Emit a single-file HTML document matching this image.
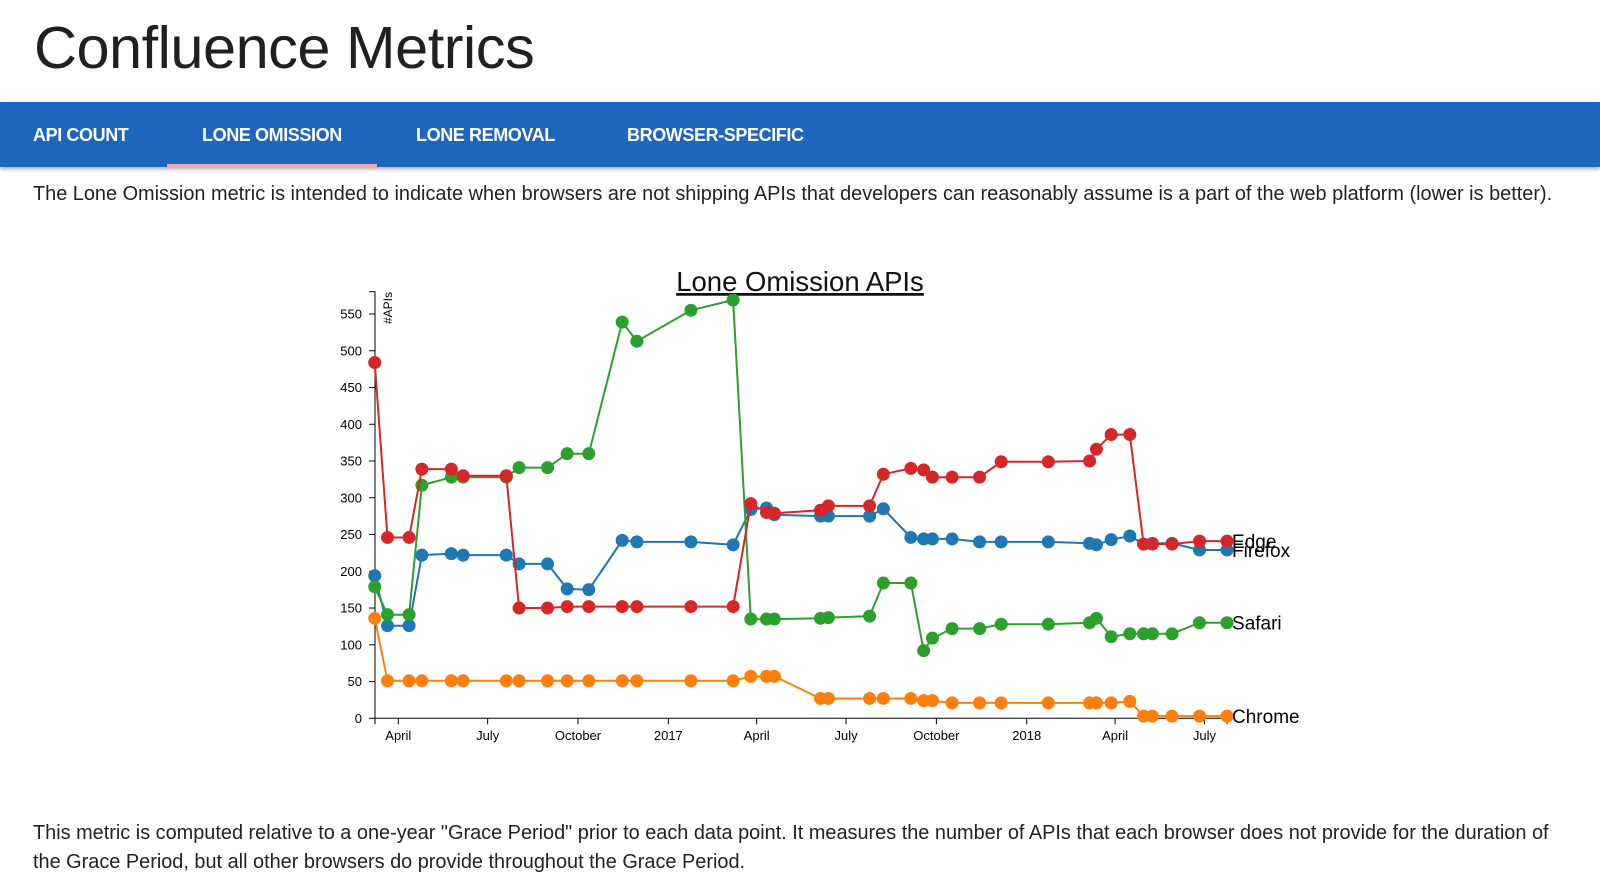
<!DOCTYPE html>
<html><head><meta charset="utf-8"><style>
html,body{margin:0;padding:0;background:#fff;width:1600px;height:894px;overflow:hidden;font-family:"Liberation Sans",sans-serif;color:#222}
h1{position:absolute;left:34px;top:13px;margin:0;font-weight:400;font-size:59.5px;letter-spacing:-0.5px;color:#202020}
#nav{position:absolute;left:0;top:102px;width:1600px;height:65px;background:#1e66bd;box-shadow:0 2px 4px rgba(0,0,0,.35)}
.tab{position:absolute;top:23px;color:#fff;font-size:18px;font-weight:bold;letter-spacing:-0.4px}
#ul{position:absolute;left:167px;top:62px;width:210px;height:3px;background:#f3a5b0}
.p{position:absolute;left:33px;font-size:19.9px;color:#222;white-space:nowrap}
</style></head><body>
<h1>Confluence Metrics</h1>
<div id="nav">
<span class="tab" style="left:33px">API COUNT</span>
<span class="tab" style="left:202px">LONE OMISSION</span>
<span class="tab" style="left:416px">LONE REMOVAL</span>
<span class="tab" style="left:627px">BROWSER-SPECIFIC</span>
<div id="ul"></div>
</div>
<div class="p" style="top:183px">The Lone Omission metric is intended to indicate when browsers are not shipping APIs that developers can reasonably assume is a part of the web platform (lower is better).</div>
<div class="p" style="top:822px">This metric is computed relative to a one-year "Grace Period" prior to each data point. It measures the number of APIs that each browser does not provide for the duration of</div>
<div class="p" style="top:851px">the Grace Period, but all other browsers do provide throughout the Grace Period.</div>
<svg id="chart" width="1600" height="894" style="position:absolute;left:0;top:0"></svg>
<script>
const days=[67,80,102,115,145,157,201,214,243,263,285,319,334,389,432,450,466,474,521,529,571,585,613,626,635,655,683,705,753,795,802,817,836,850,859,879,907,935];
const firefox=[194,126,126,222,224,222,222,210,210,176,175,242,240,240,236,284,286,277,275,275,275,285,246,244,244,244,240,240,240,238,236,243,248,237,238,238,229,229];
const chrome=[136,51,51,51,51,51,51,51,51,51,51,51,51,51,51,57,57,57,27,27,27,27,27,24,24,21,21,21,21,21,21,21,23,3,3,3,3,3];
const safari=[179,141,141,317,328,328,328,341,341,360,360,539,513,555,569,135,135,135,136,137,139,184,184,92,109,122,122,128,128,130,136,111,115,115,115,115,130,130];
const edge=[484,246,246,339,339,330,330,150,150,152,152,152,152,152,152,292,280,279,283,289,289,332,340,338,328,328,328,349,349,350,366,386,386,237,237,237,241,241];
const yTicks=[0,50,100,150,200,250,300,350,400,450,500,550];
const xTickDays=[91,182,274,366,456,547,639,731,821,912];
const xTickLabels=["April","July","October","2017","April","July","October","2018","April","July"];
const seriesNames=["Firefox","Chrome","Safari","Edge"];
const seriesColors=["#1f77b4","#ff7f0e","#2ca02c","#d62728"];
const seriesData=[firefox,chrome,safari,edge];

const NS="http://www.w3.org/2000/svg";
const svg=document.getElementById('chart');
const X=d=>398.3+(d-91)*0.9819;
const Y=v=>718.3-v*0.7351;
function mk(tag,attrs,parent){const e=document.createElementNS(NS,tag);for(const k in attrs)e.setAttribute(k,attrs[k]);(parent||svg).appendChild(e);return e;}

const t=mk('text',{x:800,y:291,'text-anchor':'middle','font-size':27.5,'font-family':'Liberation Sans, sans-serif','text-decoration':'underline',fill:'#111'});


t.textContent='Lone Omission APIs';

const ya=mk('g',{});


mk('path',{d:'M369,291.7H375V718.3',fill:'none',stroke:'#000','stroke-width':1},ya);
yTicks.forEach(v=>{
  mk('line',{x1:369,x2:375,y1:Y(v),y2:Y(v),stroke:'#000'},ya);
  const l=mk('text',{x:362,y:Y(v)+4.5,'text-anchor':'end','font-size':13,'font-family':'Liberation Sans, sans-serif',fill:'#000'},ya);
  
  
  l.textContent=v;
});
const yl=mk('text',{transform:'translate(392,292) rotate(-90)','text-anchor':'end','font-size':12,'font-family':'Liberation Sans, sans-serif',fill:'#000'});


yl.textContent='#APIs';

const xa=mk('g',{});


mk('path',{d:'M375,724.3V718.3H1227V724.3',fill:'none',stroke:'#000'},xa);
xTickDays.forEach((d,i)=>{
  mk('line',{x1:X(d),x2:X(d),y1:718.3,y2:724.3,stroke:'#000'},xa);
  const l=mk('text',{x:X(d),y:740,'text-anchor':'middle','font-size':13,'font-family':'Liberation Sans, sans-serif',fill:'#000'},xa);
  
  
  l.textContent=xTickLabels[i];
});

seriesData.forEach((vals,si)=>{
  const g=mk('g',{});
  
  
  const d=vals.map((v,i)=>(i?'L':'M')+X(days[i]).toFixed(1)+','+Y(v).toFixed(1)).join('');
  const p=mk('path',{d:d,fill:'none',stroke:seriesColors[si],'stroke-width':2},g);
  
  
  vals.forEach((v,i)=>{
    const c=mk('circle',{cx:X(days[i]),cy:Y(v),r:6.5,fill:seriesColors[si]},g);
    
    
  });
  const last=vals.length-1;
  const lab=mk('text',{x:X(days[last])+5,y:Y(vals[last])+7,'font-size':19,'font-family':'Liberation Sans, sans-serif',fill:'#000'},g);
  
  
  lab.textContent=seriesNames[si];
});
</script>
</body></html>
